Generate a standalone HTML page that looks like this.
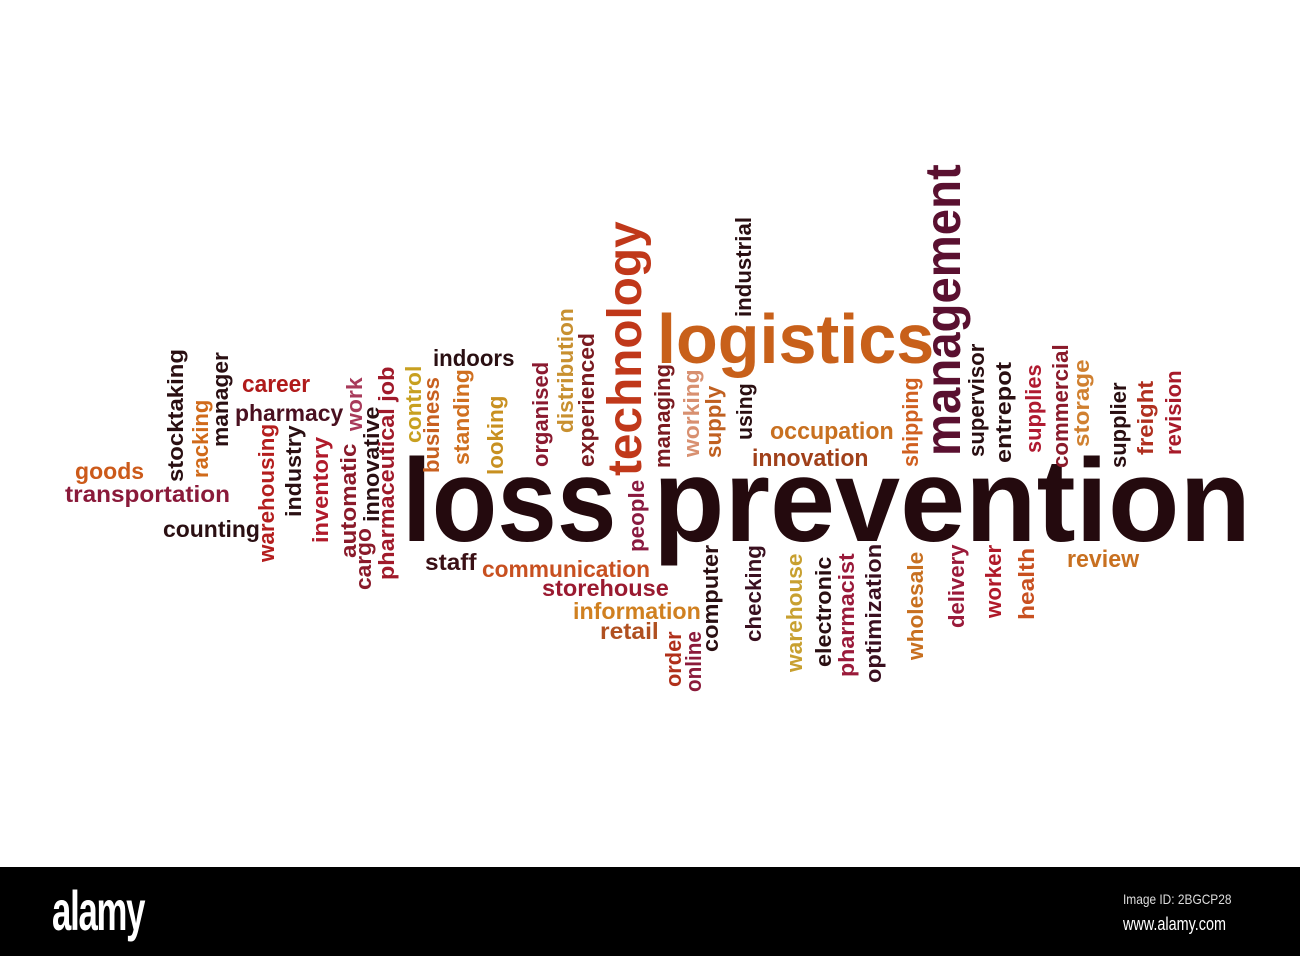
<!DOCTYPE html>
<html><head><meta charset="utf-8">
<style>
html,body{margin:0;padding:0;background:#fff;}
#stage{position:relative;width:1300px;height:956px;overflow:hidden;background:#fff;}
.w{position:absolute;white-space:nowrap;line-height:1;font-family:"Liberation Sans",sans-serif;font-weight:bold;transform-origin:left top;}
#bar{position:absolute;left:0;top:867px;width:1300px;height:89px;background:#000;}
#logo{position:absolute;left:52px;top:16px;color:#fff;font-family:"Liberation Sans",sans-serif;font-weight:bold;font-size:56px;line-height:1;transform-origin:left top;transform:scaleX(0.62);letter-spacing:-2px;}
#imgid{position:absolute;left:1123px;top:25px;color:#ddd;font-family:"Liberation Sans",sans-serif;font-size:14px;line-height:1;transform-origin:left top;transform:scaleX(0.85);}
#www{position:absolute;left:1123px;top:48px;color:#fff;font-family:"Liberation Sans",sans-serif;font-size:18px;line-height:1;transform-origin:left top;transform:scaleX(0.8);}
</style></head>
<body>
<div id="stage">
  <div id="bar">
    <div id="logo">alamy</div>
    <div id="imgid">Image ID: 2BGCP28</div>
    <div id="www">www.alamy.com</div>
  </div>
</div>
<script>
// text, orientation, start, end (along text), baseline, font size, colour
const words = [
["loss","h",404,612,542,118,"#240a0e"],
["prevention","h",655,1235,542,118,"#240a0e"],
["logistics","h",658,927,363,70,"#c8601a"],
["technology","v",475,228,643,48,"#c0381a"],
["management","v",455,172,960,50,"#5a1030"],
["career","h",242,308,393,24,"#b01a1a"],
["pharmacy","h",235,340,422,23,"#4a1020"],
["goods","h",75,142,480,23,"#cc5a1a"],
["transportation","h",65,225,503,23,"#8a1a3a"],
["counting","h",163,257,538,23,"#2a0f12"],
["indoors","h",433,512,367,23,"#2a0f12"],
["staff","h",425,475,571,23,"#3a1015"],
["communication","h",482,645,578,23,"#c85020"],
["storehouse","h",542,665,597,23,"#9a1a30"],
["information","h",573,697,620,23,"#d08020"],
["retail","h",600,657,640,23,"#b05020"],
["occupation","h",770,890,440,24,"#c87020"],
["innovation","h",752,865,467,24,"#a0401a"],
["review","h",1067,1137,568,24,"#c87020"],
["stocktaking","v",482,353,184,22,"#2a0f12"],
["racking","v",478,402,209,22,"#d06a1a"],
["manager","v",447,355,229,22,"#2a0f12"],
["work","v",431,379,363,22,"#a83a5a"],
["warehousing","v",562,428,275,22,"#b41e1e"],
["industry","v",517,428,302,22,"#2a0f12"],
["inventory","v",543,440,329,22,"#b01a2a"],
["automatic","v",558,447,357,22,"#8a1a2a"],
["cargo","v",590,530,372,22,"#8a1a2a"],
["innovative","v",522,410,380,22,"#2a0f12"],
["pharmaceutical job","v",580,373,395,22,"#a01a2a"],
["control","v",443,368,422,22,"#c8a020"],
["business","v",473,380,440,22,"#c86020"],
["standing","v",465,372,470,22,"#d07020"],
["looking","v",475,398,504,22,"#c89020"],
["organised","v",467,365,549,22,"#8a1a30"],
["distribution","v",433,312,574,22,"#c89030"],
["experienced","v",467,337,595,22,"#7a1a20"],
["managing","v",468,367,671,22,"#7a1a20"],
["working","v",457,372,700,22,"#d89070"],
["supply","v",458,388,722,22,"#c06020"],
["using","v",440,385,753,22,"#2a0f12"],
["industrial","v",317,220,752,22,"#2a0f12"],
["people","v",552,482,645,22,"#8a1a40"],
["order","v",687,633,682,22,"#b0301a"],
["online","v",692,633,702,22,"#8a1a3a"],
["computer","v",652,548,719,22,"#2a0f12"],
["checking","v",642,548,762,22,"#3a1020"],
["warehouse","v",672,557,803,22,"#c8a030"],
["shipping","v",467,380,919,22,"#d06020"],
["supervisor","v",457,347,985,22,"#2a0f12"],
["entrepot","v",463,365,1012,22,"#2a0f12"],
["supplies","v",453,367,1042,22,"#b01a30"],
["commercial","v",468,348,1069,22,"#8a1a2a"],
["storage","v",447,362,1090,22,"#d08030"],
["supplier","v",468,385,1127,22,"#2a0f12"],
["freight","v",455,383,1154,22,"#b03020"],
["revision","v",455,373,1182,22,"#a81a2a"],
["electronic","v",667,560,832,22,"#2a0f12"],
["pharmacist","v",677,557,855,22,"#9a1a3a"],
["optimization","v",683,548,882,22,"#3a1020"],
["wholesale","v",660,555,924,22,"#c87020"],
["delivery","v",628,547,965,22,"#9a1a3a"],
["worker","v",618,547,1002,22,"#b01a2a"],
["health","v",620,550,1035,22,"#c85020"]
];
const stage = document.getElementById('stage');
words.forEach(function(w){
  const el = document.createElement('div');
  el.className = 'w';
  el.textContent = w[0];
  
  
  el.style.fontSize = w[5] + 'px';
  el.style.color = w[6];
  stage.appendChild(el);
  const width = el.getBoundingClientRect().width;
  const len = Math.abs(w[3] - w[2]);
  const s = len / (width * 0.97);
  const fs = w[5];
  if (w[1] === 'h') {
    el.style.left = (w[2] - fs * 0.02) + 'px';
    el.style.top = (w[4] - 0.85 * fs) + 'px';
    el.style.transform = 'scaleX(' + s + ')';
  } else {
    el.style.left = (w[4] - 0.85 * fs) + 'px';
    el.style.top = (w[2] + fs * 0.02) + 'px';
    el.style.transform = 'rotate(-90deg) scaleX(' + s + ')';
  }
});
</script>
</body></html>
